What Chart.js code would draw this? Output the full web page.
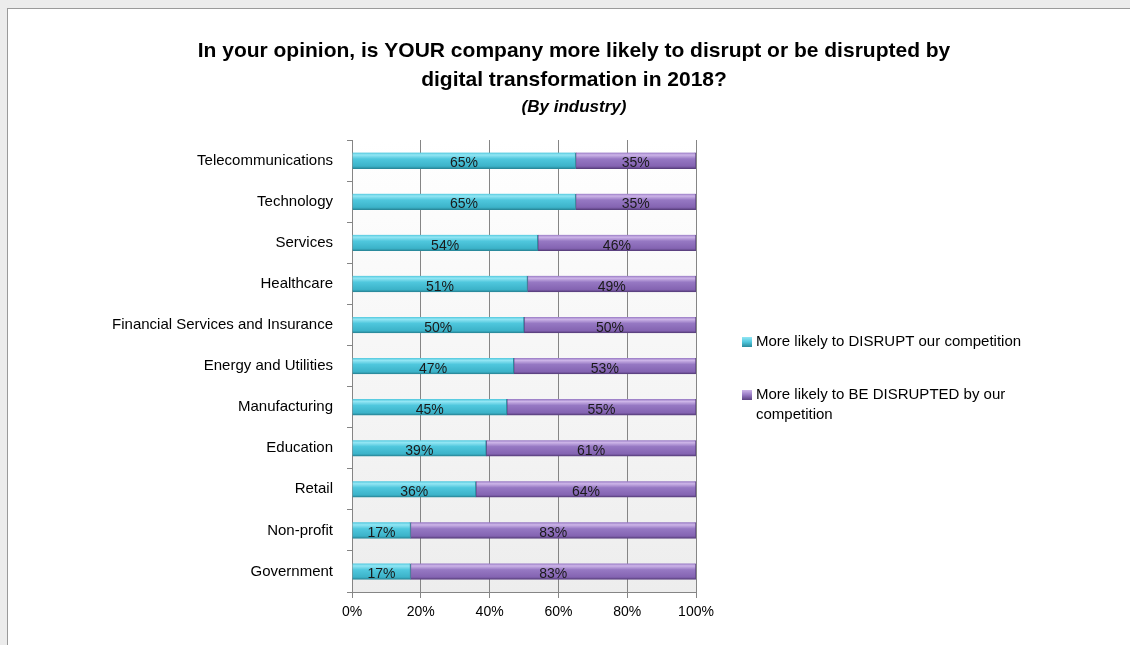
<!DOCTYPE html>
<html>
<head>
<meta charset="utf-8">
<script src="https://cdn.jsdelivr.net/npm/chart.js@4"></script>
<style>
  html, body { margin: 0; padding: 0; background: #fff; }
</style>
</head>
<body>
<canvas id="industry_disruption" width="1130" height="645"></canvas>
<script>
// data
const industries = [
  'Telecommunications', 'Technology', 'Services', 'Healthcare',
  'Financial Services and Insurance', 'Energy and Utilities', 'Manufacturing',
  'Education', 'Retail', 'Non-profit', 'Government'
];
const disrupt = [65, 65, 54, 51, 50, 47, 45, 39, 36, 17, 17];
const disrupted = [35, 35, 46, 49, 50, 53, 55, 61, 64, 83, 83];
const seriesNames = [
  'More likely to DISRUPT our competition',
  'More likely to BE DISRUPTED by our competition'
];
const titleLines = [
  'In your opinion, is YOUR company more likely to disrupt or be disrupted by',
  'digital transformation in 2018?'
];
const subtitle = '(By industry)';

const FONT = '"Liberation Sans", Arial, sans-serif';
const cyan = ['#93e6f4', '#4fc7dd', '#3cb3c9', '#2a8a9c'];
const purple = ['#cdb5e8', '#9678c3', '#8464b2', '#5b4180'];

// vertical gradient per bar so it looks like the excel 3d bars
function barFill(stops) {
  return function (ctx) {
    const y = ctx.chart.scales.y;
    if (!y || ctx.dataIndex === undefined) return stops[1];
    const yc = y.getPixelForValue(ctx.dataIndex);
    if (!isFinite(yc)) return stops[1];
    const g = ctx.chart.ctx.createLinearGradient(0, yc - 8, 0, yc + 8);
    g.addColorStop(0, stops[1]);
    g.addColorStop(0.15, stops[0]);
    g.addColorStop(0.4, stops[1]);
    g.addColorStop(0.85, stops[2]);
    g.addColorStop(1, stops[3]);
    return g;
  };
}

const frame = {
  id: 'frame',
  beforeDraw(chart) {
    const c = chart.ctx;
    const a = chart.chartArea;
    c.save();
    c.fillStyle = '#ececec';
    c.fillRect(0, 0, chart.width, chart.height);
    c.fillStyle = '#ffffff';
    c.fillRect(8, 9, chart.width - 8, chart.height - 9);
    c.fillStyle = '#9a9a9a';
    c.fillRect(7, 8, chart.width - 7, 1);
    c.fillRect(7, 8, 1, chart.height - 8);
    // plot area background
    const g = c.createLinearGradient(0, a.top, 0, a.bottom);
    g.addColorStop(0, '#ffffff');
    g.addColorStop(1, '#ededed');
    c.fillStyle = g;
    c.fillRect(a.left, a.top, a.right - a.left, a.bottom - a.top);
    c.restore();
  },
  afterDraw(chart) {
    const c = chart.ctx;
    c.save();
    c.fillStyle = '#000';
    c.textAlign = 'center';
    c.textBaseline = 'middle';
    c.font = 'bold 21px ' + FONT;
    c.fillText(titleLines[0], 574, 51);
    c.fillText(titleLines[1], 574, 80);
    c.font = 'italic bold 17px ' + FONT;
    c.fillText(subtitle, 574, 107);

    // legend
    c.textAlign = 'left';
    c.font = '15px ' + FONT;
    const items = [
      { y: 342, stops: cyan, lines: [seriesNames[0]] },
      { y: 395, stops: purple, lines: ['More likely to BE DISRUPTED by our', 'competition'] }
    ];
    items.forEach(it => {
      const g = c.createLinearGradient(0, it.y - 5, 0, it.y + 5);
      g.addColorStop(0, it.stops[0]);
      g.addColorStop(0.5, it.stops[1]);
      g.addColorStop(1, it.stops[3]);
      c.fillStyle = g;
      c.fillRect(742, it.y - 5, 10, 10);
      c.fillStyle = '#000';
      it.lines.forEach((t, k) => c.fillText(t, 756, it.y + k * 20));
    });
    c.restore();
  }
};

const valueLabels = {
  id: 'valueLabels',
  afterDatasetsDraw(chart) {
    const c = chart.ctx;
    c.save();
    c.font = '14px ' + FONT;
    c.fillStyle = '#1a1a1a';
    c.textAlign = 'center';
    c.textBaseline = 'middle';
    chart.data.datasets.forEach((ds, i) => {
      chart.getDatasetMeta(i).data.forEach((bar, j) => {
        const p = bar.getProps(['x', 'y', 'base'], true);
        c.fillText(ds.data[j] + '%', (p.x + p.base) / 2, p.y + 3);
      });
    });
    c.restore();
  }
};

new Chart('industry_disruption', {
  type: 'bar',
  data: {
    labels: industries,
    datasets: [
      {
        label: seriesNames[0],
        data: disrupt,
        backgroundColor: barFill(cyan),
        borderColor: '#2a8a9c',
        borderWidth: { right: 1, bottom: 1 },
        borderSkipped: false,
        barThickness: 16
      },
      {
        label: seriesNames[1],
        data: disrupted,
        backgroundColor: barFill(purple),
        borderColor: '#5b4180',
        borderWidth: { right: 1, bottom: 1, left: 1 },
        borderSkipped: false,
        barThickness: 16
      }
    ]
  },
  options: {
    indexAxis: 'y',
    responsive: false,
    animation: false,
    layout: { padding: { left: 0, top: 140, right: 434, bottom: 0 } },
    plugins: {
      legend: { display: false },
      tooltip: { enabled: false }
    },
    scales: {
      x: {
        stacked: true,
        min: 0,
        max: 100,
        afterFit(scale) { scale.height = 53; },
        ticks: {
          stepSize: 20,
          padding: 6,
          color: '#000',
          font: { family: FONT, size: 14 },
          callback: v => v + '%'
        },
        grid: { color: '#858585', tickLength: 6 },
        border: { display: true, color: '#858585' }
      },
      y: {
        stacked: true,
        afterFit(scale) { scale.width = 352; },
        ticks: {
          padding: 14,
          color: '#000',
          font: { family: FONT, size: 15 }
        },
        grid: { offset: true, drawOnChartArea: false, tickLength: 5, color: '#858585' },
        border: { display: true, color: '#858585' }
      }
    }
  },
  plugins: [frame, valueLabels]
});
</script>
</body>
</html>
